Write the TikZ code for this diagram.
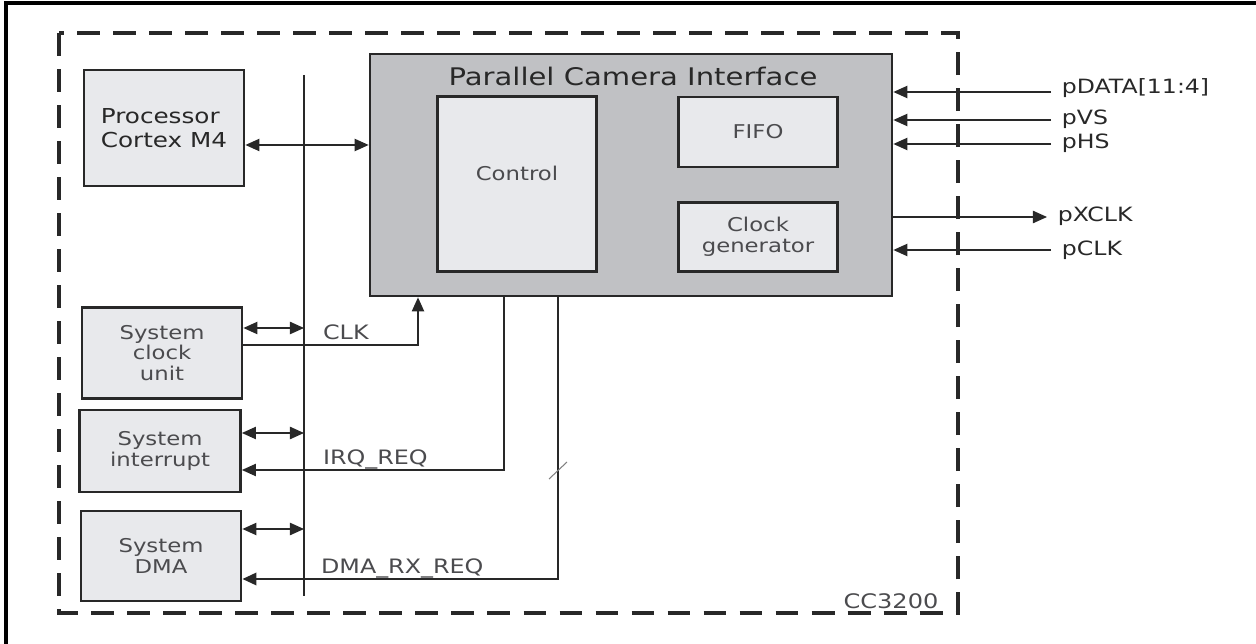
\documentclass[tikz,border=0pt]{standalone}
\usepackage{fontspec}
\setmainfont{DejaVu Sans}[FakeStretch=1.2]
\usetikzlibrary{arrows.meta}

\definecolor{pcigray}{RGB}{192,193,196}
\definecolor{boxgray}{RGB}{232,233,236}
\definecolor{linegray}{RGB}{40,40,40}
\definecolor{txtgray}{RGB}{75,75,78}

\tikzset{
  blk/.style={draw=linegray,line width=1.6pt,fill=boxgray,align=center,text=txtgray,font=\fontsize{10.8}{11.8}\selectfont,inner sep=0pt},
  sig/.style={anchor=west,inner xsep=6pt,inner ysep=1pt,text=linegray,font=\fontsize{11.2}{13}\selectfont},
  lbl/.style={anchor=base west,inner sep=1pt,text=txtgray,font=\fontsize{11.3}{13}\selectfont},
  wire/.style={line width=.8pt,draw=linegray},
  arr/.style={-{Triangle[length=8pt,width=7pt]}},
  dbl/.style={{Triangle[length=8pt,width=7pt]}-{Triangle[length=8pt,width=7pt]}},
}

\begin{document}
\begin{tikzpicture}[x=0.02cm,y=-0.02cm]
\useasboundingbox (0,0) rectangle (1256,644);
\draw[line width=1.8pt] (6,644) -- (6,3) -- (1256,3);
\draw[line width=2pt,draw=linegray,dash pattern=on 13pt off 7.5pt] (59,33) rectangle (958,613);
\node[anchor=center,inner sep=1pt,text=txtgray,font=\fontsize{11.4}{13}\selectfont] (chip) at (891,601) {CC3200};

\node[blk,minimum width=3.2cm,minimum height=2.32cm,align=left,text=linegray,font=\fontsize{11.7}{14}\selectfont] (proc) at (164,128) {Processor\\Cortex M4};
\node[blk,fill=pcigray,minimum width=10.44cm,minimum height=4.84cm] (pci) at (631,175) {};
\node[inner sep=0pt,text=linegray,font=\fontsize{13.8}{16}\selectfont] (pcititle) at (633,76) {Parallel Camera Interface};
\node[blk,minimum width=3.18cm,minimum height=3.5cm] (ctrl) at (517,184) {};
\node[inner sep=0pt,text=txtgray,font=\fontsize{10.8}{11.8}\selectfont] (ctrltxt) at (517,173) {Control};
\node[blk,minimum width=3.18cm,minimum height=1.4cm] (fifo) at (758,132) {FIFO};
\node[blk,minimum width=3.18cm,minimum height=1.38cm] (clkgen) at (758,237) {Clock\\generator};
\node[blk,minimum width=3.2cm,minimum height=1.82cm] (sysclk) at (162,353) {System\\clock\\unit};
\node[blk,minimum width=3.22cm,minimum height=1.64cm] (sysint) at (160,451) {System\\interrupt};
\node[blk,minimum width=3.2cm,minimum height=1.8cm] (sysdma) at (161,556) {System\\DMA};

\coordinate (bustop) at (304,75);
\coordinate (busbot) at (304,596);
\draw[line width=1.4pt,draw=linegray] (bustop) -- (busbot);

\draw[wire,dbl] (proc.east |- 0,145) -- (pci.west |- 0,145);
\foreach \b/\y in {sysclk/328,sysint/433,sysdma/529}
  \draw[wire,dbl] (\b.east |- 0,\y) -- (bustop |- 0,\y);

\node[lbl] (clklbl) at (321,340) {CLK};
\node[lbl] (irqlbl) at (321,464) {IRQ\_REQ};
\node[lbl] (dmalbl) at (319,573) {DMA\_RX\_REQ};
\draw[wire,arr] (sysclk.east |- 0,345) -| (pci.south -| 418,0);
\draw[wire,arr] (pci.south -| 504,0) |- (sysint.east |- 0,470);
\draw[wire,line width=1.4pt,arr] (pci.south -| 558,0) |- (sysdma.east |- 0,579);
\draw[line width=.6pt,draw=gray] (549,479) -- (567,462);

\node[sig] (pdata) at (1051,88) {pDATA[11:4]};
\node[sig] (pvs) at (1051,119) {pVS};
\node[sig] (phs) at (1051,143) {pHS};
\node[sig] (pxclk) at (1047,216) {pXCLK};
\node[sig] (pclk) at (1051,250) {pCLK};
\foreach \s/\y in {pdata/92,pvs/120,phs/144,pclk/250}
  \draw[wire,arr] (\s.west |- 0,\y) -- (pci.east |- 0,\y);
\draw[wire,arr] (pci.east |- 0,217) -- (pxclk.west |- 0,217);
\end{tikzpicture}
\end{document}
